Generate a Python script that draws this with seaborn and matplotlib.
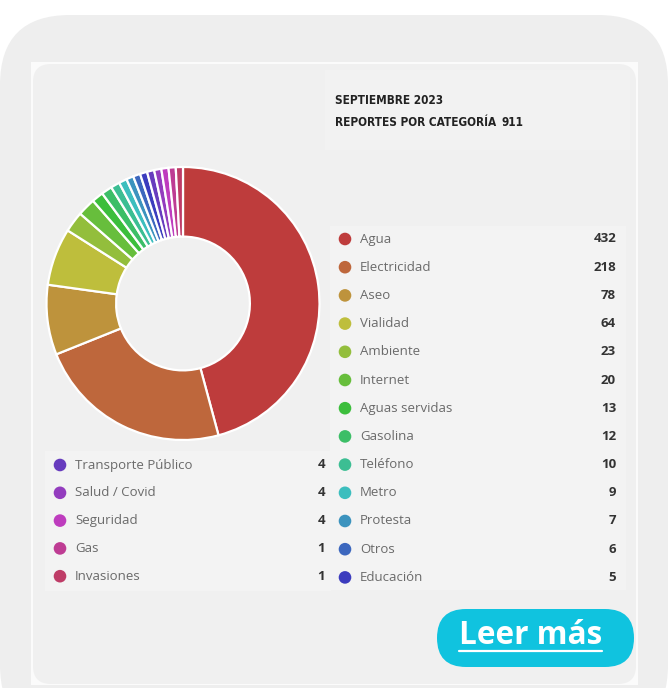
import matplotlib
matplotlib.use("Agg")
import matplotlib.pyplot as plt
import numpy as np
import seaborn as sns
from matplotlib.patches import FancyBboxPatch, Rectangle, Circle

# ---- data ----
categories = ["Agua", "Electricidad", "Aseo", "Vialidad", "Ambiente", "Internet",
              "Aguas servidas", "Gasolina", "Teléfono", "Metro", "Protesta", "Otros",
              "Educación", "Transporte Público", "Salud / Covid", "Seguridad", "Gas",
              "Invasiones"]
values = [432, 218, 78, 64, 23, 20, 13, 12, 10, 9, 7, 6, 5, 4, 4, 4, 1, 1]
title_line1 = "SEPTIEMBRE 2023"
title_line2 = "REPORTES POR CATEGORÍA"
total_label = "911"
button_label = "Leer más"

sns.set_theme(style="white")
plt.rcParams['font.family'] = ['Open Sans', 'DejaVu Sans']

palette = sns.hls_palette(len(categories), h=0.0, l=0.49, s=0.52)

W, H = 671, 688
fig = plt.figure(figsize=(W / 100, H / 100), dpi=100)
fig.patch.set_facecolor("white")

bg = fig.add_axes([0, 0, 1, 1])
bg.set_xlim(0, W)
bg.set_ylim(H, 0)
bg.axis("off")

# outer rounded card
bg.add_patch(FancyBboxPatch((0, 15), 668, 720, boxstyle="round,pad=0,rounding_size=70",
                            fc="#eeeeee", ec="none", zorder=0))
# inner panel (white corners + rounded light panel)
bg.add_patch(Rectangle((31, 62), 607, 623, fc="#fbfbfb", ec="none", zorder=1))
bg.add_patch(FancyBboxPatch((33, 64), 603, 620, boxstyle="round,pad=0,rounding_size=18",
                            fc="#f0f0f0", ec="none", zorder=2))
# subtle sub-panels
bg.add_patch(Rectangle((330, 226), 296, 364, fc="#f3f3f3", ec="none", zorder=2.5))
bg.add_patch(Rectangle((45, 451), 286, 140, fc="#f3f3f3", ec="none", zorder=2.5))
bg.add_patch(Rectangle((325, 70), 305, 80, fc="#f2f2f2", ec="none", zorder=2.5))

# titles (condensed bold)
tkw = dict(family=['DejaVu Sans'], fontstretch="condensed", fontweight="bold",
           fontsize=8.5, color="#222222", va="center", ha="left", zorder=5)
bg.text(335, 100, title_line1, **tkw)
bg.text(335, 123, title_line2, **tkw)
bg.text(502, 123, total_label, **tkw)

# legends
def legend_row(i, xc, xt, xv, y):
    bg.add_patch(Circle((xc, y), 6.3, fc=palette[i], ec="none", zorder=5))
    bg.text(xt, y, categories[i], fontsize=9.5, color="#6a6a6a", va="center",
            ha="left", zorder=5)
    bg.text(xv, y, str(values[i]), fontsize=9.5, fontweight="bold", color="#333333",
            va="center", ha="right", zorder=5)

right_y0, step = 239, 28.2
for k in range(13):
    legend_row(k, 345, 360, 616, right_y0 + k * step)
left_y0, lstep = 465, 27.8
for k in range(13, 18):
    legend_row(k, 60, 75, 325, left_y0 + (k - 13) * lstep)

# button
bg.add_patch(FancyBboxPatch((437, 609), 197, 58, boxstyle="round,pad=0,rounding_size=29",
                            fc="#10c3df", ec="none", zorder=5))
bg.text(530.5, 635, button_label, fontsize=22.7, fontweight="bold", color="white",
        ha="center", va="center", zorder=6)
bg.plot([459, 602], [651, 651], color="white", lw=1.6, zorder=6)

# donut (the chart draws tiny categories with a minimum visible slice)
min_slice = 8
display_values = np.maximum(np.array(values, dtype=float), min_slice)
cx, cy, R = 183, 303.5, 136.5
pie_ax = fig.add_axes([(cx - R) / W, (H - cy - R) / H, 2 * R / W, 2 * R / H])
pie_ax.pie(display_values, colors=palette, startangle=90, counterclock=False, radius=1.0,
           wedgeprops=dict(width=0.51, edgecolor="white", linewidth=1.6))
pie_ax.set_xlim(-1, 1)
pie_ax.set_ylim(-1, 1)
pie_ax.set_aspect("equal")
pie_ax.axis("off")
pie_ax.patch.set_alpha(0)

fig.savefig("out.png", dpi=100, facecolor="white")
